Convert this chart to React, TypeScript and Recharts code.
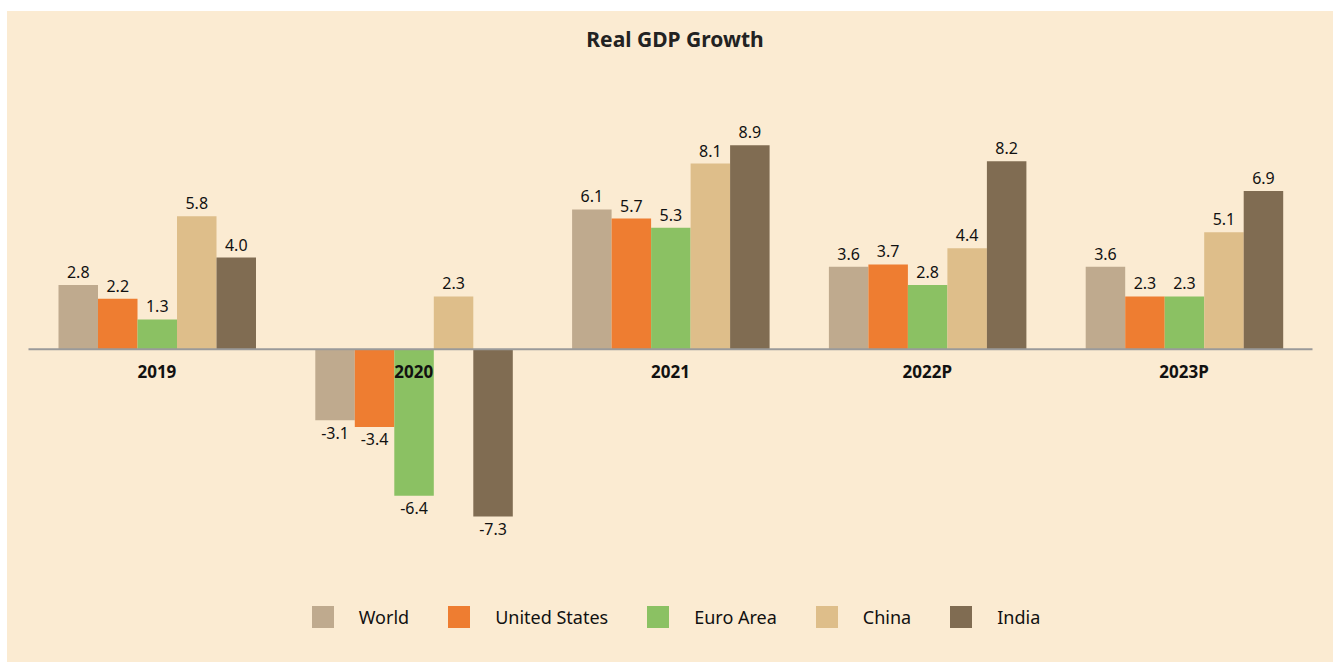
import { BarChart, Bar, XAxis, YAxis, Legend, LabelList, ReferenceLine } from 'recharts';

const years = ['2019', '2020', '2021', '2022P', '2023P'];
const world = [2.8, -3.1, 6.1, 3.6, 3.6];
const unitedStates = [2.2, -3.4, 5.7, 3.7, 2.3];
const euroArea = [1.3, -6.4, 5.3, 2.8, 2.3];
const china = [5.8, 2.3, 8.1, 4.4, 5.1];
const india = [4.0, -7.3, 8.9, 8.2, 6.9];

const series = [
  { key: 'world', name: 'World', color: '#BFAA8E' },
  { key: 'us', name: 'United States', color: '#EE7D31' },
  { key: 'euro', name: 'Euro Area', color: '#8BC163' },
  { key: 'china', name: 'China', color: '#DEBE8A' },
  { key: 'india', name: 'India', color: '#806C52' },
];

const data = years.map((y, i) => ({
  year: y,
  world: world[i],
  us: unitedStates[i],
  euro: euroArea[i],
  china: china[i],
  india: india[i],
}));

const W = 1326;
const H = 651;
const M = { top: 109, right: 20.5, bottom: 88, left: 21.5 };
const Y_MIN = -8.5;
const Y_MAX = 10;
const PLOT_H = H - M.top - M.bottom - 30;
const ZERO_Y = M.top + (PLOT_H * Y_MAX) / (Y_MAX - Y_MIN);

const FONT = '"Noto Sans", "Open Sans", sans-serif';

const YearTick = (props: any) => {
  const { x, payload } = props;
  return (
    <text x={x} y={ZERO_Y + 29} textAnchor="middle" fontSize={17} fontWeight={700} fill="#111" fontFamily={FONT}>
      {payload.value}
    </text>
  );
};

const LegendRow = () => (
  <div
    style={{
      display: 'flex',
      justifyContent: 'center',
      alignItems: 'center',
      fontFamily: FONT,
      fontSize: 18,
      color: '#111',
      paddingLeft: 12,
    }}
  >
    {series.map((s, i) => (
      <div key={s.key} style={{ display: 'flex', alignItems: 'center', marginRight: i < series.length - 1 ? 39 : 0 }}>
        <span style={{ width: 22, height: 22, background: s.color, display: 'inline-block', marginRight: 25 }} />
        <span>{s.name}</span>
      </div>
    ))}
  </div>
);

export default function App() {
  return (
    <div style={{ position: 'absolute', left: 7, top: 11, width: W, height: H, background: '#FBEBD2' }}>
      <div
        style={{
          position: 'absolute',
          top: 14,
          left: 0,
          width: W,
          textAlign: 'center',
          fontFamily: FONT,
          fontWeight: 700,
          fontSize: 21,
          color: '#222',
          paddingLeft: 10,
          boxSizing: 'border-box',
        }}
      >
        Real GDP Growth
      </div>
      <BarChart width={W} height={H} data={data} margin={M} barGap={0} barSize={39.5}>
        <YAxis hide domain={[Y_MIN, Y_MAX]} />
        {series.map(s => (
          <Bar key={s.key} dataKey={s.key} name={s.name} fill={s.color} isAnimationActive={false}>
            <LabelList
              dataKey={s.key}
              position="top"
              offset={7}
              formatter={(v: any) => Number(v).toFixed(1)}
              style={{ fontFamily: FONT, fontSize: 16, fill: '#111' }}
            />
          </Bar>
        ))}
        <ReferenceLine y={0} stroke="#9A9A9A" strokeWidth={2} />
        <XAxis dataKey="year" axisLine={false} tickLine={false} tick={<YearTick />} interval={0} height={30} />
        <Legend
          layout="horizontal"
          verticalAlign="middle"
          align="center"
          content={<LegendRow />}
          wrapperStyle={{ top: 594, left: 0, width: W }}
        />
      </BarChart>
    </div>
  );
}
